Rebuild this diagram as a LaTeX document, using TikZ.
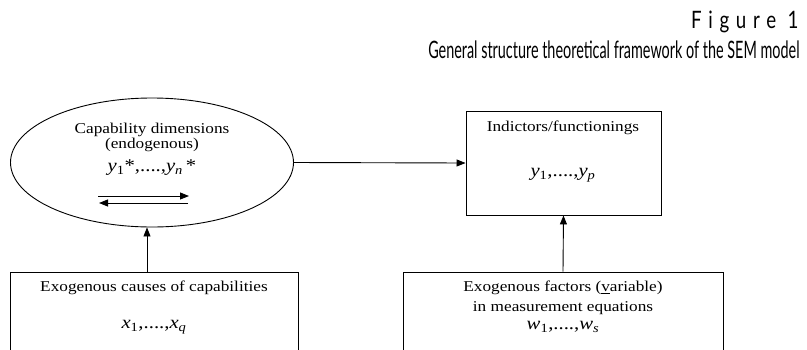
\documentclass[tikz,border=0pt]{standalone}
\usepackage{fontspec}
\setmainfont{Liberation Serif}[FakeStretch=1.15]
\newfontfamily\titlefont{Lato}[FakeStretch=0.6]
\newfontfamily\titlefontsp{Lato}[FakeStretch=0.78,LetterSpace=28]
\newcommand\sv[2]{\textit{#1}\textsubscript{#2}}
\usetikzlibrary{arrows.meta,shapes.geometric}
\begin{document}
\begin{tikzpicture}[x=1pt,y=-1pt,
  line width=0.9pt,
  arr/.style={-{Triangle[length=9pt,width=7pt]}},
  body/.style={font=\fontsize{15}{15}\selectfont, inner sep=0pt, anchor=center},
  mathtext/.style={font=\fontsize{18}{18}\selectfont, inner sep=0pt, anchor=center},
  boxstyle/.style={draw, rectangle, inner sep=0pt},
  ttl/.style={font=\titlefont\fontsize{24}{27}\selectfont, inner sep=0pt, anchor=east}
]
\useasboundingbox (0,0) rectangle (807,349);
\clip (0,0) rectangle (807,349);
% title
\node[ttl, font=\titlefontsp\fontsize{24}{27}\selectfont] (t1) at (799,22) {Figure 1};
\node[ttl] (t2) at (800,50) {General structure theoretical framework of the SEM model};
% shapes
\node[draw, ellipse, minimum width=283pt, minimum height=129pt, inner sep=0pt] (cap) at (152,162.5) {};
\node[boxstyle, minimum width=195pt, minimum height=104pt] (ind) at (563.5,163) {};
\node[boxstyle, minimum width=288pt, minimum height=130pt] (exo) at (154,337) {};
\node[boxstyle, minimum width=320pt, minimum height=130pt] (fac) at (563,337) {};
% texts
\node[body] (c1) at (152,130) {Capability dimensions};
\node[body] (c2) at (152,145) {(endogenous)};
\node[mathtext] (c3) at (152,168) {\sv{y}{1}*,....,\sv{y}{\textit{n}}\,*};
\node[body] (i1) at (563,128) {Indictors/functionings};
\node[mathtext] (i2) at (563,175) {\sv{y}{1},....,\sv{y}{\textit{p}}};
\node[body] (e1) at (154,288) {Exogenous causes of capabilities};
\node[mathtext] (e2) at (154,327) {\sv{x}{1},....,\sv{x}{\textit{q}}};
\node[body] (f1) at (563,288) {Exogenous factors (\underline{v}ariable)};
\node[body] (f2) at (563,308) {in measurement equations};
\node[mathtext] (f3) at (563,327) {\sv{w}{1},....,\sv{w}{\textit{s}}};
% inner arrows
\coordinate (ra) at (98,196);
\coordinate (rb) at (189,196);
\coordinate (la) at (188,203);
\coordinate (lb) at (99,203);
\draw[arr] (ra) -- (rb);
\draw[arr] (la) -- (lb);
% connectors
\draw[arr] (cap.east) -- (ind.west);
\draw[arr] ([xshift=-7pt]exo.north) -- ([xshift=-7pt]exo.north |- cap.south);
\draw[arr] (fac.north) -- (ind.south);
\end{tikzpicture}
\end{document}
